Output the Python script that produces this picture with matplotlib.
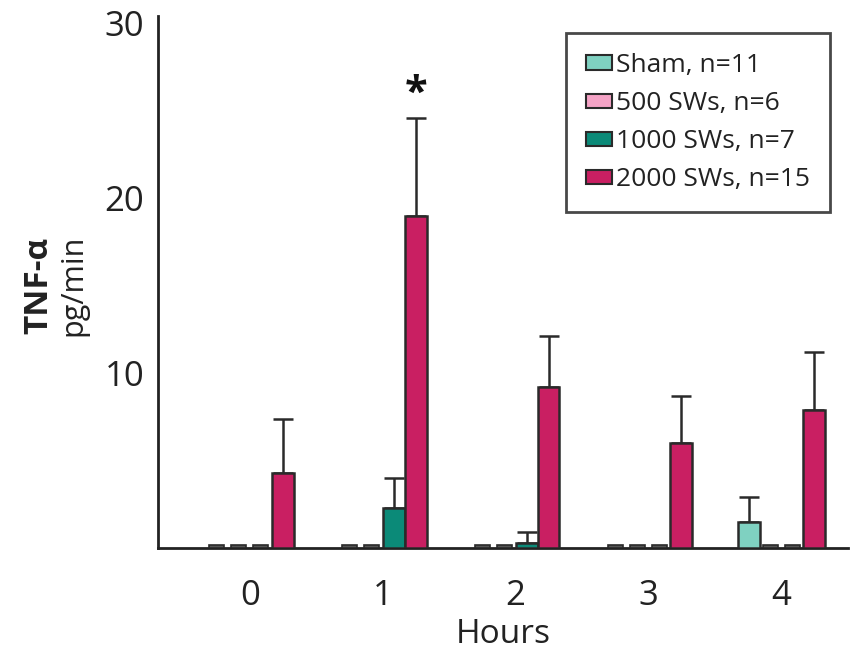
import matplotlib.pyplot as plt
from matplotlib.patches import Patch
import numpy as np

# values (pg/min)
hours = [0, 1, 2, 3, 4]
groups = ['Sham, n=11', '500 SWs, n=6', '1000 SWs, n=7', '2000 SWs, n=15']
sham = [0, 0, 0, 0, 1.5]
sham_err = [0, 0, 0, 0, 1.4]
sw500 = [0, 0, 0, 0, 0]
sw500_err = [0, 0, 0, 0, 0]
sw1000 = [0, 2.3, 0.3, 0, 0]
sw1000_err = [0, 1.7, 0.6, 0, 0]
sw2000 = [4.3, 19.0, 9.2, 6.0, 7.9]
sw2000_err = [3.1, 5.6, 2.9, 2.7, 3.3]
star_hour = 1

colors = ['#7fd1c1', '#f5a3c6', '#0b8a78', '#c91f62']
edge = '#2a2a2a'

plt.rcParams['font.family'] = ['Open Sans', 'DejaVu Sans']

fig = plt.figure(figsize=(8.56, 6.56), dpi=100)
ax = fig.add_axes([0.1846, 0.1646, 0.806, 0.811])

w = 0.165
x = np.array(hours, dtype=float)
series = [(sham, sham_err), (sw500, sw500_err), (sw1000, sw1000_err), (sw2000, sw2000_err)]
for i, (vals, errs) in enumerate(series):
    pos = x + (i - 1.5) * w
    vals = np.array(vals)
    errs = np.array(errs)
    nz = vals > 0
    ax.bar(pos[nz], vals[nz], width=w, color=colors[i], edgecolor=edge,
           linewidth=1.8, zorder=3)
    ax.errorbar(pos[nz], vals[nz], yerr=[np.zeros(nz.sum()), errs[nz]], fmt='none',
                ecolor=edge, elinewidth=1.8, capsize=7, capthick=1.8, zorder=2)
    # zero values are drawn as small dashes on the baseline
    ax.bar(pos[~nz], 0.2, width=w * 0.68, color='#555555', edgecolor=edge,
           linewidth=1.2, zorder=3)

# significance mark
ax.text(star_hour + 1.5 * w, sw2000[star_hour] + sw2000_err[star_hour] + 0.15, '*',
        ha='center', va='bottom', fontsize=30, fontweight='bold', color='#111111')

ax.set_xlim(-0.69, 4.5)
ax.set_ylim(0, 30.4)
ax.set_yticks([10, 20, 30])
ax.set_xticks(hours)
ax.tick_params(axis='both', length=0, labelsize=25, colors='#222222')
ax.tick_params(axis='x', pad=22)
ax.tick_params(axis='y', pad=10)
for s in ['top', 'right']:
    ax.spines[s].set_visible(False)
for s in ['left', 'bottom']:
    ax.spines[s].set_linewidth(2)
    ax.spines[s].set_color('#222222')

ax.set_xlabel('Hours', fontsize=24, color='#222222', labelpad=4)
fig.text(0.045, 0.565, 'TNF-α', rotation=90, ha='center', va='center',
         fontsize=24, fontweight='bold', color='#222222')
fig.text(0.086, 0.565, 'pg/min', rotation=90, ha='center', va='center',
         fontsize=22, color='#222222')

handles = [Patch(facecolor=c, edgecolor=edge, linewidth=1.5) for c in colors]
leg = ax.legend(handles, groups, loc='upper right', bbox_to_anchor=(0.974, 0.968),
                fontsize=19, frameon=True, fancybox=False, handlelength=1.0,
                handleheight=0.45, handletextpad=0.15, labelspacing=0.5,
                borderpad=0.75, borderaxespad=0)
leg.get_frame().set_edgecolor('#1a1a1a')
leg.get_frame().set_linewidth(2)
for t in leg.get_texts():
    t.set_color('#222222')

fig.savefig('out.png', dpi=100)
